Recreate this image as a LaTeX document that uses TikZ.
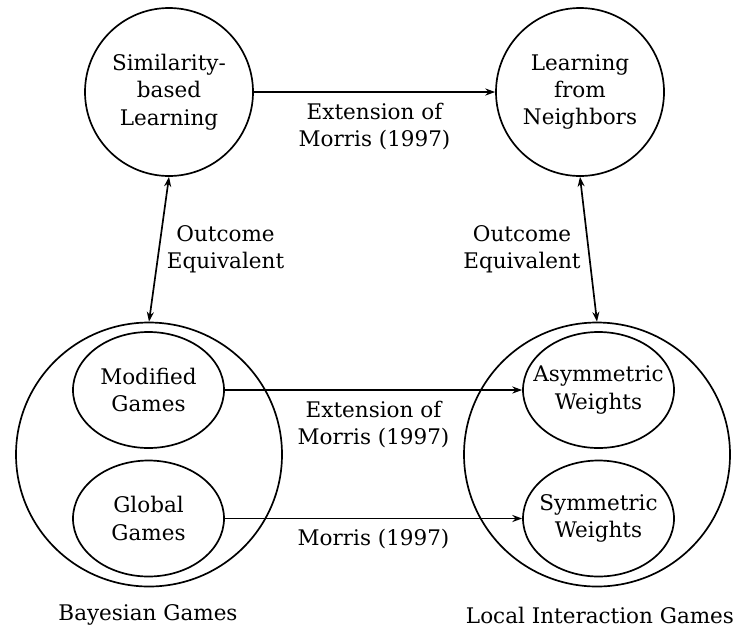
\documentclass[tikz,border=0pt]{standalone}
\usepackage{fontspec}
\setmainfont{DejaVu Serif}
\usetikzlibrary{shapes.geometric,arrows.meta}

\begin{document}
\begin{tikzpicture}[
  font=\fontsize{15.3}{19.5}\selectfont,
  bigset/.style={draw, ellipse, line width=1.2pt, minimum width=6.65cm, minimum height=6.6cm, inner sep=0pt},
  subset/.style={draw, ellipse, line width=1.2pt, minimum width=3.775cm, minimum height=2.9cm, inner sep=0pt},
  topbox/.style={draw, circle, line width=1.2pt, minimum size=4.2cm, inner sep=0pt, align=center},
  inside/.style={label={[align=center]center:#1}},
  link/.style={line width=1.2pt, -{Stealth[length=7pt,width=5pt]}},
  twoway/.style={line width=1.2pt, {Stealth[length=7pt,width=5pt]}-{Stealth[length=7pt,width=5pt]}},
  lbl/.style={align=center, inner sep=2pt}
]
\useasboundingbox (0,0) rectangle (18.4,-15.725);

% the two learning rules
\node[topbox] (sim) at (4.225,-2.3) {Similarity-\\based\\Learning};
\node[topbox] (nbr) at (14.5,-2.3) {Learning\\from\\Neighbors};

% the two classes of games
\node[bigset] (bayes) at (3.725,-11.3625) {};
\node[bigset] (local) at (14.925,-11.3625) {};
\node[subset, inside={Modified\\Games}] (mod) at (3.7125,-9.75) {};
\node[subset, inside={Global\\Games}] (glob) at (3.7125,-12.9625) {};
\node[subset, inside={Asymmetric\\Weights}] (asym) at (14.9625,-9.75) {};
\node[subset, inside={Symmetric\\Weights}] (sym) at (14.9625,-12.9625) {};
\node (bayeslbl) at (3.7,-15.375) {Bayesian Games};
\node (locallbl) at (15,-15.375) {Local Interaction Games};

% links
\draw[link] (sim.east) -- node[lbl, below=5pt] {Extension of\\Morris (1997)} (nbr.west);
\draw[link] (mod.east) -- node[lbl, below=5pt] {Extension of\\Morris (1997)} (asym.west);
\draw[link] (glob.east) -- node[lbl, below=5pt] {Morris (1997)} (sym.west);
\draw[twoway] (sim.south) -- node[lbl, right, inner sep=5pt] {Outcome\\Equivalent} (bayes.north);
\draw[twoway] (nbr.south) -- node[lbl, left, inner sep=5pt] {Outcome\\Equivalent} (local.north);
\end{tikzpicture}
\end{document}
